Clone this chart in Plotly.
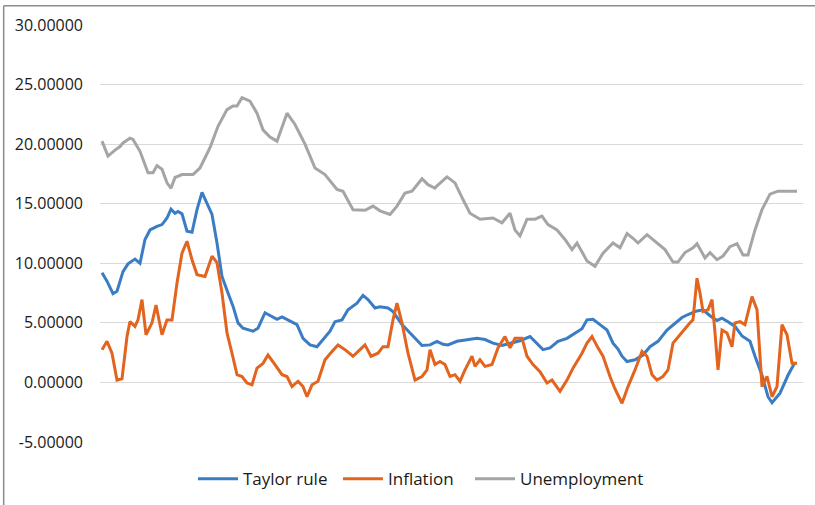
import plotly.graph_objects as go

unemp_t = [0, 6, 13, 18, 21, 28, 31, 38, 46, 51, 55, 60, 65, 69, 73, 80, 91, 98, 108, 116,
           125, 131, 135, 140, 148, 155, 161, 168, 175, 185, 193, 203, 213, 223, 235, 241,
           251, 263, 271, 278, 288, 295, 303, 310, 320, 326, 333, 335, 345, 353, 361, 368,
           378, 391, 400, 408, 413, 418, 425, 433, 440, 446, 455, 463, 470, 475, 485, 493,
           501, 511, 518, 525, 531, 536, 545, 553, 563, 571, 576, 583, 591, 595, 603, 608,
           615, 621, 628, 635, 641, 646, 653, 660, 668, 676, 695]
unemp_v = [20.25, 19.0, 19.5, 19.8, 20.1, 20.5, 20.4, 19.4, 17.6, 17.6, 18.2, 17.9, 16.75,
           16.3, 17.2, 17.45, 17.45, 18.0, 19.7, 21.5, 22.9, 23.2, 23.2, 23.9, 23.6, 22.6,
           21.2, 20.6, 20.25, 22.6, 21.65, 20.0, 18.0, 17.45, 16.2, 16.05, 14.5, 14.45, 14.8,
           14.4, 14.1, 14.8, 15.9, 16.05, 17.1, 16.6, 16.3, 16.5, 17.25, 16.75, 15.35, 14.2,
           13.7, 13.8, 13.4, 14.2, 12.8, 12.3, 13.7, 13.7, 13.95, 13.25, 12.8, 12.0, 11.15,
           11.7, 10.2, 9.75, 10.85, 11.7, 11.3, 12.5, 12.1, 11.7, 12.4, 11.85, 11.15, 10.1,
           10.1, 10.9, 11.3, 11.65, 10.45, 10.9, 10.3, 10.6, 11.4, 11.65, 10.7, 10.7, 12.8,
           14.5, 15.8, 16.05, 16.05]

taylor_t = [0, 5, 11, 15, 21, 26, 33, 38, 43, 48, 55, 60, 65, 69, 73, 76, 80, 85, 90, 95,
            100, 104, 110, 115, 120, 126, 131, 136, 141, 151, 156, 163, 170, 175, 180, 186,
            195, 201, 208, 215, 221, 228, 233, 240, 246, 255, 261, 266, 273, 278, 286, 291,
            300, 306, 313, 320, 328, 335, 341, 346, 355, 366, 375, 383, 391, 400, 408, 418,
            428, 435, 441, 448, 456, 465, 473, 480, 485, 491, 498, 505, 511, 516, 520, 525,
            533, 541, 548, 556, 565, 573, 580, 586, 595, 601, 608, 615, 620, 626, 633, 640,
            648, 653, 660, 666, 670, 678, 686, 693]
taylor_v = [9.2, 8.5, 7.45, 7.65, 9.3, 9.95, 10.35, 10.0, 12.0, 12.8, 13.1, 13.25, 13.8,
            14.55, 14.2, 14.35, 14.15, 12.7, 12.6, 14.5, 15.95, 15.2, 14.1, 11.7, 8.9, 7.5,
            6.4, 5.0, 4.55, 4.3, 4.55, 5.85, 5.55, 5.3, 5.5, 5.25, 4.85, 3.7, 3.15, 3.0, 3.6,
            4.3, 5.1, 5.25, 6.1, 6.65, 7.3, 6.95, 6.25, 6.35, 6.25, 5.95, 4.85, 4.3, 3.7, 3.1,
            3.15, 3.45, 3.2, 3.15, 3.45, 3.6, 3.7, 3.6, 3.3, 3.1, 3.3, 3.5, 3.85, 3.3, 2.75,
            2.9, 3.45, 3.7, 4.15, 4.5, 5.25, 5.3, 4.85, 4.4, 3.3, 2.8, 2.2, 1.75, 1.9, 2.3,
            3.0, 3.45, 4.4, 5.0, 5.45, 5.7, 6.0, 6.1, 5.6, 5.2, 5.4, 5.1, 4.7, 3.9, 3.45, 2.2,
            0.6, -1.2, -1.7, -0.9, 0.6, 1.7]

infl_t = [0, 5, 10, 15, 20, 25, 28, 33, 36, 40, 44, 50, 54, 60, 65, 70, 75, 80, 85, 90,
          95, 103, 110, 115, 120, 125, 130, 135, 140, 145, 150, 155, 161, 166, 173, 180, 185,
          190, 196, 201, 205, 210, 216, 223, 230, 236, 243, 251, 258, 263, 269, 276, 281,
          286, 291, 295, 300, 306, 313, 320, 325, 328, 333, 338, 343, 348, 353, 358, 363,
          370, 373, 378, 383, 390, 396, 403, 408, 413, 420, 425, 431, 438, 445, 450, 458,
          465, 471, 480, 485, 490, 496, 501, 508, 513, 520, 526, 533, 540, 545, 550, 555,
          561, 566, 571, 578, 583, 588, 591, 595, 598, 601, 606, 610, 613, 616, 620, 625,
          630, 633, 638, 643, 650, 655, 660, 665, 670, 675, 680, 685, 690, 695]
infl_v = [2.75, 3.45, 2.45, 0.2, 0.3, 3.85, 5.1, 4.7, 5.25, 6.95, 4.0, 5.0, 6.5, 4.0, 5.25,
          5.25, 8.35, 10.85, 11.85, 10.3, 9.05, 8.9, 10.6, 10.05, 7.5, 4.15, 2.45, 0.65, 0.5,
          -0.05, -0.2, 1.2, 1.6, 2.3, 1.5, 0.65, 0.5, -0.35, 0.1, -0.35, -1.2, -0.2, 0.1,
          1.9, 2.6, 3.15, 2.75, 2.2, 2.75, 3.15, 2.2, 2.45, 3.0, 3.0, 5.25, 6.65, 5.0, 2.45,
          0.2, 0.5, 1.05, 2.75, 1.5, 1.75, 1.5, 0.5, 0.65, 0.1, 1.05, 2.2, 1.35, 1.9, 1.35,
          1.5, 2.9, 3.85, 2.9, 3.7, 3.7, 2.2, 1.5, 0.9, -0.05, 0.2, -0.75, 0.2, 1.2, 2.45,
          3.3, 3.85, 2.9, 2.2, 0.5, -0.55, -1.75, -0.35, 1.05, 2.6, 2.2, 0.65, 0.2, 0.5,
          1.05, 3.3, 4.0, 4.55, 5.0, 5.25, 8.75, 7.5, 5.95, 6.1, 6.95, 4.15, 1.05, 4.4, 4.15,
          3.0, 5.0, 5.1, 4.85, 7.2, 6.1, -0.35, 0.5, -1.2, -0.35, 4.85, 4.0, 1.6, 1.6]

y_ticks = [-5, 0, 5, 10, 15, 20, 25, 30]
y_tick_labels = ["-5.00000", "0.00000", "5.00000", "10.00000", "15.00000",
                 "20.00000", "25.00000", "30.00000"]

FONT = "Open Sans"
LEG_FONT = dict(family=FONT, size=17, color="#1a1a1a")

fig = go.Figure()
fig.add_trace(go.Scatter(x=taylor_t, y=taylor_v, mode="lines", name="Taylor rule",
                         line=dict(color="#3A7DC4", width=3), legend="legend"))
fig.add_trace(go.Scatter(x=infl_t, y=infl_v, mode="lines", name="Inflation",
                         line=dict(color="#E2641E", width=3), legend="legend2"))
fig.add_trace(go.Scatter(x=unemp_t, y=unemp_v, mode="lines", name="Unemployment",
                         line=dict(color="#A5A5A5", width=3), legend="legend3"))

def leg(xpos):
    return dict(orientation="h", x=xpos, xanchor="left", y=-0.089, yanchor="middle",
                font=LEG_FONT, itemwidth=40, bgcolor="rgba(0,0,0,0)")

fig.update_layout(
    width=815, height=505,
    margin=dict(l=100, r=12, t=25, b=63, autoexpand=False),
    paper_bgcolor="white", plot_bgcolor="white",
    font=dict(family=FONT, size=16, color="#1a1a1a"),
    showlegend=True,
    legend=leg(0.1323), legend2=leg(0.3385), legend3=leg(0.5263),
    xaxis=dict(range=[-2, 701], showgrid=False, zeroline=False, showticklabels=False,
               ticks="", showline=False, automargin=False),
    yaxis=dict(range=[-5, 30], tickvals=y_ticks, ticktext=y_tick_labels,
               showgrid=True, gridcolor="#D9D9D9", gridwidth=1, zeroline=False,
               showline=False, ticks="", ticklabelstandoff=16, automargin=False,
               tickfont=dict(family=FONT, size=16, color="#1a1a1a")),
)

# chart-area border (visible on the left and top edges)
fig.add_shape(type="line", xref="paper", yref="paper", x0=-0.137, x1=1.02,
              y0=1.046, y1=1.046, line=dict(color="#8C8C8C", width=1.5))
fig.add_shape(type="line", xref="paper", yref="paper", x0=-0.137, x1=-0.137,
              y0=1.046, y1=-0.16, line=dict(color="#8C8C8C", width=1.5))

fig.write_html("out.html", config={"displayModeBar": False},
               post_script="document.body.style.margin='0';")
